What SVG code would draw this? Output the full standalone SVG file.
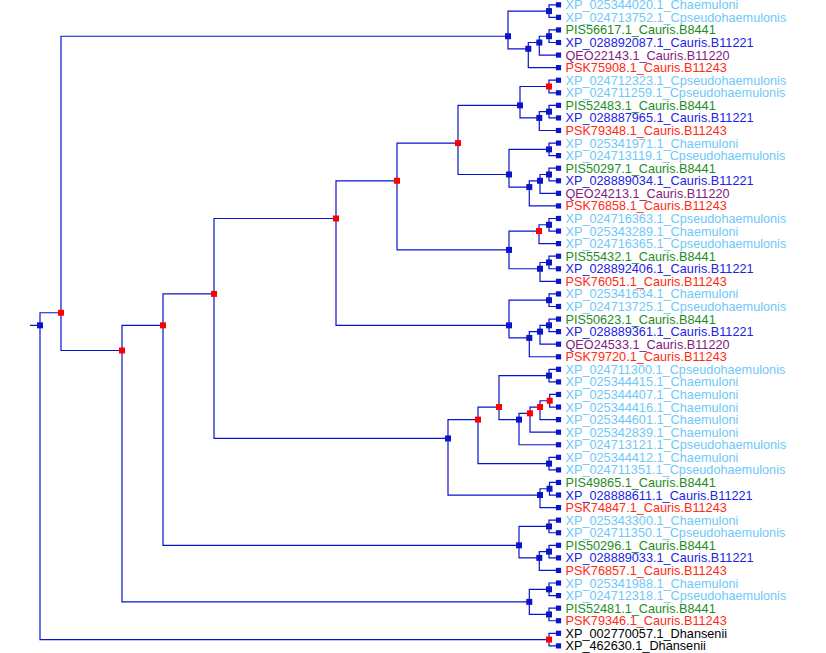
<svg xmlns="http://www.w3.org/2000/svg" width="826" height="653" viewBox="0 0 826 653">
<style>
.ln{fill:none;stroke:#0a14cc;stroke-width:1.2}
.nb{fill:#0a14c8}
.nr{fill:#ff0000}
text{font-family:"Liberation Sans",Arial,sans-serif;font-size:12.7px}
.ch{fill:#6ec8f8}
.b8{fill:#1e8c1e}
.b21{fill:#2222e6}
.b20{fill:#802080}
.b43{fill:#ff2a14}
.dh{fill:#000000}
</style>
<defs>
<rect id="sq" x="-3" y="-3" width="6" height="6"/>
<rect id="lf" x="-2.6" y="-2.6" width="5.2" height="5.2"/>
</defs>
<g id="tree" transform="matrix(1 0 0 0.997619 0 0.111)">
<g id="connectors" class="ln">
<path d="M30 326H40 M61 313.4H40V641H549 M508 36.2H61V351.2H122"/>
<path d="M558.5 634.7H549V647.3H558.5"/>
<path d="M549 11H508V48.8H528.3 M558.5 4.7H549V17.3H558.5 M539.3 42.5H528.3V67.7H558.5 M549 36.2H539.3V55.1H558.5 M558.5 29.9H549V42.5H558.5"/>
<path d="M163 326H122V603.2H529.3 M214 294.5H163V546.5H519 M336 218.9H214V439.4H448 M397 181.1H336V326H509 M458 143.3H397V250.4H509 M520 105.5H458V174.8H509"/>
<path d="M549 86.6H520V118.1H539.3 M558.5 80.3H549V92.9H558.5 M549 111.8H539.3V130.7H558.5 M558.5 105.5H549V118.1H558.5"/>
<path d="M549 149.6H509V187.4H529.3 M558.5 143.3H549V155.9H558.5 M540 181.1H529.3V206.3H558.5 M549 174.8H540V193.7H558.5 M558.5 168.5H549V181.1H558.5"/>
<path d="M539 231.5H509V269.3H540 M549 225.2H539V244.1H558.5 M558.5 218.9H549V231.5H558.5 M549 263H540V281.9H558.5 M558.5 256.7H549V269.3H558.5"/>
<path d="M549 300.8H509V338.6H529.3 M558.5 294.5H549V307.1H558.5 M540 332.3H529.3V357.5H558.5 M549 326H540V344.9H558.5 M558.5 319.7H549V332.3H558.5"/>
<path d="M478 420.5H448V496.1H540 M499 407.9H478V464.6H549 M558.5 458.3H549V470.9H558.5 M549 376.4H499V420.5H519 M558.5 370.1H549V382.7H558.5 M530 414.2H519V445.7H558.5 M540 407.9H530V433.1H558.5 M549.7 401.6H540V420.5H558.5 M558.5 395.3H549.7V407.9H558.5 M549.5 489.8H540V508.7H558.5 M558.5 483.5H549.5V496.1H558.5"/>
<path d="M549 527.6H519V559.1H539.3 M558.5 521.3H549V533.9H558.5 M549 552.8H539.3V571.7H558.5 M558.5 546.5H549V559.1H558.5"/>
<path d="M549 590.6H529.3V615.8H549 M558.5 584.3H549V596.9H558.5 M558.5 609.5H549V622.1H558.5"/>
</g>
<g id="internal-nodes">
<g id="n-root"><use href="#sq" class="nb" x="40" y="326"/></g>
<g id="n-ingroup"><use href="#sq" class="nr" x="61" y="313.4"/></g>
<g id="n-dhansenii"><use href="#sq" class="nr" x="549" y="641"/></g>
<g id="n-A"><use href="#sq" class="nb" x="508" y="36.2"/></g>
<g id="n-A1"><use href="#sq" class="nb" x="549" y="11"/></g>
<g id="n-A2"><use href="#sq" class="nb" x="528.3" y="48.8"/></g>
<g id="n-A3"><use href="#sq" class="nb" x="539.3" y="42.5"/></g>
<g id="n-A4"><use href="#sq" class="nb" x="549" y="36.2"/></g>
<g id="n-b"><use href="#sq" class="nr" x="122" y="351.2"/></g>
<g id="n-c"><use href="#sq" class="nr" x="163" y="326"/></g>
<g id="n-d"><use href="#sq" class="nr" x="214" y="294.5"/></g>
<g id="n-e"><use href="#sq" class="nr" x="336" y="218.9"/></g>
<g id="n-f"><use href="#sq" class="nr" x="397" y="181.1"/></g>
<g id="n-g"><use href="#sq" class="nr" x="458" y="143.3"/></g>
<g id="n-B"><use href="#sq" class="nb" x="520" y="105.5"/></g>
<g id="n-B1"><use href="#sq" class="nr" x="549" y="86.6"/></g>
<g id="n-B2"><use href="#sq" class="nb" x="539.3" y="118.1"/></g>
<g id="n-B3"><use href="#sq" class="nb" x="549" y="111.8"/></g>
<g id="n-C"><use href="#sq" class="nb" x="509" y="174.8"/></g>
<g id="n-C1"><use href="#sq" class="nb" x="549" y="149.6"/></g>
<g id="n-C2"><use href="#sq" class="nb" x="529.3" y="187.4"/></g>
<g id="n-C3"><use href="#sq" class="nb" x="540" y="181.1"/></g>
<g id="n-C4"><use href="#sq" class="nb" x="549" y="174.8"/></g>
<g id="n-V"><use href="#sq" class="nb" x="509" y="250.4"/></g>
<g id="n-V1"><use href="#sq" class="nr" x="539" y="231.5"/></g>
<g id="n-V3"><use href="#sq" class="nb" x="549" y="225.2"/></g>
<g id="n-V2"><use href="#sq" class="nb" x="540" y="269.3"/></g>
<g id="n-V4"><use href="#sq" class="nb" x="549" y="263"/></g>
<g id="n-W"><use href="#sq" class="nb" x="509" y="326"/></g>
<g id="n-W1"><use href="#sq" class="nb" x="549" y="300.8"/></g>
<g id="n-W2"><use href="#sq" class="nb" x="529.3" y="338.6"/></g>
<g id="n-W3"><use href="#sq" class="nb" x="540" y="332.3"/></g>
<g id="n-W4"><use href="#sq" class="nb" x="549" y="326"/></g>
<g id="n-X"><use href="#sq" class="nb" x="448" y="439.4"/></g>
<g id="n-X1"><use href="#sq" class="nr" x="478" y="420.5"/></g>
<g id="n-X3"><use href="#sq" class="nr" x="499" y="407.9"/></g>
<g id="n-X4"><use href="#sq" class="nb" x="549" y="464.6"/></g>
<g id="n-X5"><use href="#sq" class="nb" x="549" y="376.4"/></g>
<g id="n-X6"><use href="#sq" class="nb" x="519" y="420.5"/></g>
<g id="n-X7"><use href="#sq" class="nr" x="530" y="414.2"/></g>
<g id="n-X8"><use href="#sq" class="nr" x="540" y="407.9"/></g>
<g id="n-X9"><use href="#sq" class="nr" x="549.7" y="401.6"/></g>
<g id="n-X2"><use href="#sq" class="nb" x="540" y="496.1"/></g>
<g id="n-X10"><use href="#sq" class="nb" x="549.5" y="489.8"/></g>
<g id="n-Y"><use href="#sq" class="nb" x="519" y="546.5"/></g>
<g id="n-Y1"><use href="#sq" class="nb" x="549" y="527.6"/></g>
<g id="n-Y2"><use href="#sq" class="nb" x="539.3" y="559.1"/></g>
<g id="n-Y3"><use href="#sq" class="nb" x="549" y="552.8"/></g>
<g id="n-Z"><use href="#sq" class="nb" x="529.3" y="603.2"/></g>
<g id="n-Z1"><use href="#sq" class="nb" x="549" y="590.6"/></g>
<g id="n-Z2"><use href="#sq" class="nb" x="549" y="615.8"/></g>
</g>
<g id="leaves">
<g id="leaf-0"><use href="#lf" class="nb" x="558.5" y="4.7"/><text class="ch" x="565.5" y="9.4">XP_025344020.1_Chaemuloni</text></g>
<g id="leaf-1"><use href="#lf" class="nb" x="558.5" y="17.3"/><text class="ch" x="565.5" y="21.9">XP_024713752.1_Cpseudohaemulonis</text></g>
<g id="leaf-2"><use href="#lf" class="nb" x="558.5" y="29.9"/><text class="b8" x="565.5" y="34.4">PIS56617.1_Cauris.B8441</text></g>
<g id="leaf-3"><use href="#lf" class="nb" x="558.5" y="42.5"/><text class="b21" x="565.5" y="47">XP_028892087.1_Cauris.B11221</text></g>
<g id="leaf-4"><use href="#lf" class="nb" x="558.5" y="55.1"/><text class="b20" x="565.5" y="59.6">QEO22143.1_Cauris.B11220</text></g>
<g id="leaf-5"><use href="#lf" class="nb" x="558.5" y="67.7"/><text class="b43" x="565.5" y="72.2">PSK75908.1_Cauris.B11243</text></g>
<g id="leaf-6"><use href="#lf" class="nb" x="558.5" y="80.3"/><text class="ch" x="565.5" y="84.8">XP_024712323.1_Cpseudohaemulonis</text></g>
<g id="leaf-7"><use href="#lf" class="nb" x="558.5" y="92.9"/><text class="ch" x="565.5" y="97.4">XP_024711259.1_Cpseudohaemulonis</text></g>
<g id="leaf-8"><use href="#lf" class="nb" x="558.5" y="105.5"/><text class="b8" x="565.5" y="110">PIS52483.1_Cauris.B8441</text></g>
<g id="leaf-9"><use href="#lf" class="nb" x="558.5" y="118.1"/><text class="b21" x="565.5" y="122.6">XP_028887965.1_Cauris.B11221</text></g>
<g id="leaf-10"><use href="#lf" class="nb" x="558.5" y="130.7"/><text class="b43" x="565.5" y="135.2">PSK79348.1_Cauris.B11243</text></g>
<g id="leaf-11"><use href="#lf" class="nb" x="558.5" y="143.3"/><text class="ch" x="565.5" y="147.8">XP_025341971.1_Chaemuloni</text></g>
<g id="leaf-12"><use href="#lf" class="nb" x="558.5" y="155.9"/><text class="ch" x="565.5" y="160.4">XP_024713119.1_Cpseudohaemulonis</text></g>
<g id="leaf-13"><use href="#lf" class="nb" x="558.5" y="168.5"/><text class="b8" x="565.5" y="173">PIS50297.1_Cauris.B8441</text></g>
<g id="leaf-14"><use href="#lf" class="nb" x="558.5" y="181.1"/><text class="b21" x="565.5" y="185.6">XP_028889034.1_Cauris.B11221</text></g>
<g id="leaf-15"><use href="#lf" class="nb" x="558.5" y="193.7"/><text class="b20" x="565.5" y="198.2">QEO24213.1_Cauris.B11220</text></g>
<g id="leaf-16"><use href="#lf" class="nb" x="558.5" y="206.3"/><text class="b43" x="565.5" y="210.8">PSK76858.1_Cauris.B11243</text></g>
<g id="leaf-17"><use href="#lf" class="nb" x="558.5" y="218.9"/><text class="ch" x="565.5" y="223.4">XP_024716363.1_Cpseudohaemulonis</text></g>
<g id="leaf-18"><use href="#lf" class="nb" x="558.5" y="231.5"/><text class="ch" x="565.5" y="236">XP_025343289.1_Chaemuloni</text></g>
<g id="leaf-19"><use href="#lf" class="nb" x="558.5" y="244.1"/><text class="ch" x="565.5" y="248.6">XP_024716365.1_Cpseudohaemulonis</text></g>
<g id="leaf-20"><use href="#lf" class="nb" x="558.5" y="256.7"/><text class="b8" x="565.5" y="261.2">PIS55432.1_Cauris.B8441</text></g>
<g id="leaf-21"><use href="#lf" class="nb" x="558.5" y="269.3"/><text class="b21" x="565.5" y="273.8">XP_028892406.1_Cauris.B11221</text></g>
<g id="leaf-22"><use href="#lf" class="nb" x="558.5" y="281.9"/><text class="b43" x="565.5" y="286.4">PSK76051.1_Cauris.B11243</text></g>
<g id="leaf-23"><use href="#lf" class="nb" x="558.5" y="294.5"/><text class="ch" x="565.5" y="299">XP_025341634.1_Chaemuloni</text></g>
<g id="leaf-24"><use href="#lf" class="nb" x="558.5" y="307.1"/><text class="ch" x="565.5" y="311.6">XP_024713725.1_Cpseudohaemulonis</text></g>
<g id="leaf-25"><use href="#lf" class="nb" x="558.5" y="319.7"/><text class="b8" x="565.5" y="324.2">PIS50623.1_Cauris.B8441</text></g>
<g id="leaf-26"><use href="#lf" class="nb" x="558.5" y="332.3"/><text class="b21" x="565.5" y="336.8">XP_028889361.1_Cauris.B11221</text></g>
<g id="leaf-27"><use href="#lf" class="nb" x="558.5" y="344.9"/><text class="b20" x="565.5" y="349.4">QEO24533.1_Cauris.B11220</text></g>
<g id="leaf-28"><use href="#lf" class="nb" x="558.5" y="357.5"/><text class="b43" x="565.5" y="362">PSK79720.1_Cauris.B11243</text></g>
<g id="leaf-29"><use href="#lf" class="nb" x="558.5" y="370.1"/><text class="ch" x="565.5" y="374.6">XP_024711300.1_Cpseudohaemulonis</text></g>
<g id="leaf-30"><use href="#lf" class="nb" x="558.5" y="382.7"/><text class="ch" x="565.5" y="387.2">XP_025344415.1_Chaemuloni</text></g>
<g id="leaf-31"><use href="#lf" class="nb" x="558.5" y="395.3"/><text class="ch" x="565.5" y="399.8">XP_025344407.1_Chaemuloni</text></g>
<g id="leaf-32"><use href="#lf" class="nb" x="558.5" y="407.9"/><text class="ch" x="565.5" y="412.4">XP_025344416.1_Chaemuloni</text></g>
<g id="leaf-33"><use href="#lf" class="nb" x="558.5" y="420.5"/><text class="ch" x="565.5" y="425">XP_025344601.1_Chaemuloni</text></g>
<g id="leaf-34"><use href="#lf" class="nb" x="558.5" y="433.1"/><text class="ch" x="565.5" y="437.6">XP_025342839.1_Chaemuloni</text></g>
<g id="leaf-35"><use href="#lf" class="nb" x="558.5" y="445.7"/><text class="ch" x="565.5" y="450.2">XP_024713121.1_Cpseudohaemulonis</text></g>
<g id="leaf-36"><use href="#lf" class="nb" x="558.5" y="458.3"/><text class="ch" x="565.5" y="462.8">XP_025344412.1_Chaemuloni</text></g>
<g id="leaf-37"><use href="#lf" class="nb" x="558.5" y="470.9"/><text class="ch" x="565.5" y="475.4">XP_024711351.1_Cpseudohaemulonis</text></g>
<g id="leaf-38"><use href="#lf" class="nb" x="558.5" y="483.5"/><text class="b8" x="565.5" y="488">PIS49865.1_Cauris.B8441</text></g>
<g id="leaf-39"><use href="#lf" class="nb" x="558.5" y="496.1"/><text class="b21" x="565.5" y="500.6">XP_028888611.1_Cauris.B11221</text></g>
<g id="leaf-40"><use href="#lf" class="nb" x="558.5" y="508.7"/><text class="b43" x="565.5" y="513.2">PSK74847.1_Cauris.B11243</text></g>
<g id="leaf-41"><use href="#lf" class="nb" x="558.5" y="521.3"/><text class="ch" x="565.5" y="525.8">XP_025343300.1_Chaemuloni</text></g>
<g id="leaf-42"><use href="#lf" class="nb" x="558.5" y="533.9"/><text class="ch" x="565.5" y="538.4">XP_024711350.1_Cpseudohaemulonis</text></g>
<g id="leaf-43"><use href="#lf" class="nb" x="558.5" y="546.5"/><text class="b8" x="565.5" y="551">PIS50296.1_Cauris.B8441</text></g>
<g id="leaf-44"><use href="#lf" class="nb" x="558.5" y="559.1"/><text class="b21" x="565.5" y="563.6">XP_028889033.1_Cauris.B11221</text></g>
<g id="leaf-45"><use href="#lf" class="nb" x="558.5" y="571.7"/><text class="b43" x="565.5" y="576.2">PSK76857.1_Cauris.B11243</text></g>
<g id="leaf-46"><use href="#lf" class="nb" x="558.5" y="584.3"/><text class="ch" x="565.5" y="588.8">XP_025341988.1_Chaemuloni</text></g>
<g id="leaf-47"><use href="#lf" class="nb" x="558.5" y="596.9"/><text class="ch" x="565.5" y="601.4">XP_024712318.1_Cpseudohaemulonis</text></g>
<g id="leaf-48"><use href="#lf" class="nb" x="558.5" y="609.5"/><text class="b8" x="565.5" y="614">PIS52481.1_Cauris.B8441</text></g>
<g id="leaf-49"><use href="#lf" class="nb" x="558.5" y="622.1"/><text class="b43" x="565.5" y="626.6">PSK79346.1_Cauris.B11243</text></g>
<g id="leaf-50"><use href="#lf" class="nb" x="558.5" y="634.7"/><text class="dh" x="565.5" y="639.2">XP_002770057.1_Dhansenii</text></g>
<g id="leaf-51"><use href="#lf" class="nb" x="558.5" y="647.3"/><text class="dh" x="565.5" y="651.6">XP_462630.1_Dhansenii</text></g>
</g>
</g>
</svg>
